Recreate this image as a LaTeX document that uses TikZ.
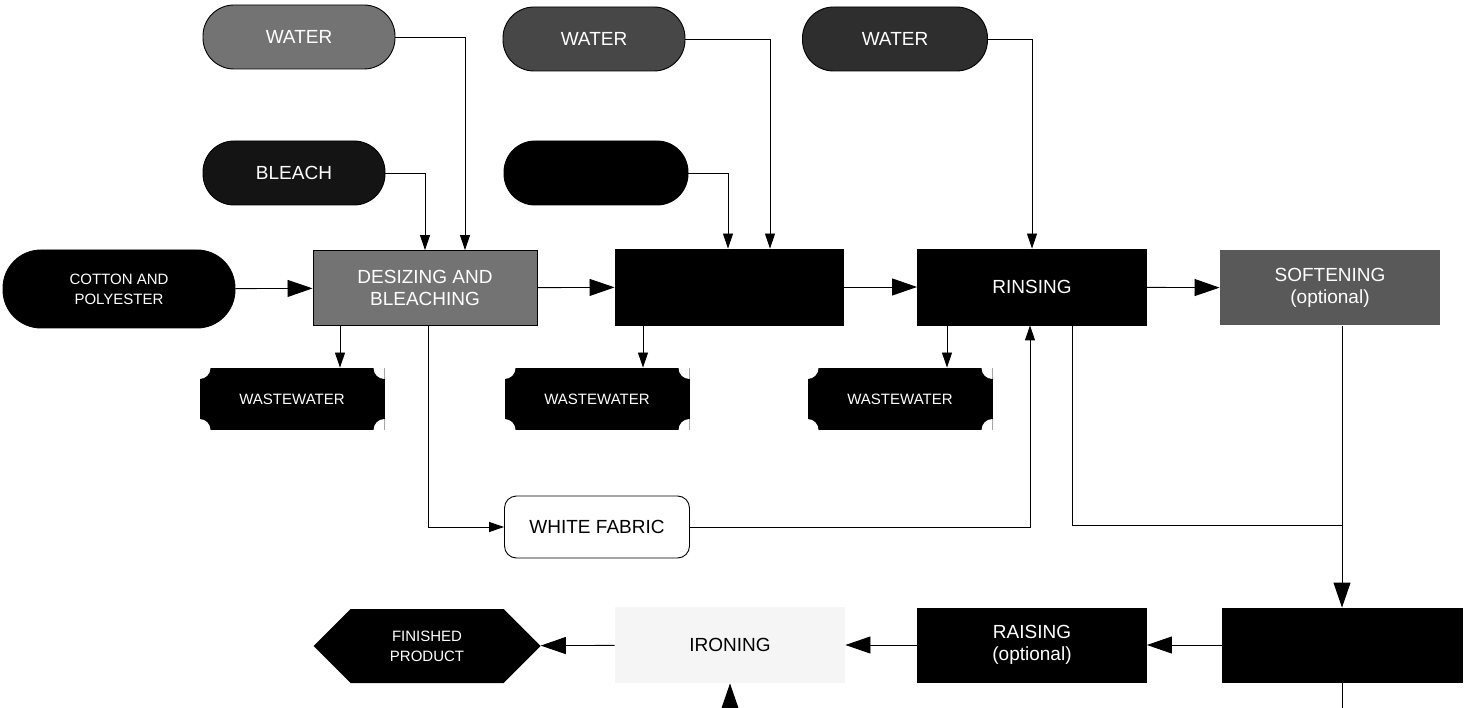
\documentclass[tikz,border=0pt]{standalone}
\usepackage{fontspec}
\setmainfont{Liberation Sans}
\usetikzlibrary{arrows.meta,shapes.symbols}
\begin{document}
\begin{tikzpicture}[x=1pt,y=-1pt,
  font=\fontsize{19}{22}\selectfont,
  line width=0.9pt,
  pill/.style={rectangle,rounded corners=31pt,minimum width=184pt,minimum height=64pt,
    draw=black,text=white,inner sep=0pt},
  procbox/.style={rectangle,minimum width=228pt,minimum height=76pt,draw=black,
    text=white,align=center,inner sep=0pt},
  waste/.style={rectangle,fill=black,minimum width=185pt,minimum height=62pt,
    text=white,inner sep=0pt,font=\fontsize{15}{18}\selectfont,
    path picture={
      \fill[white] (path picture bounding box.north west) circle (11pt);
      \fill[white] (path picture bounding box.north east) circle (11pt);
      \fill[white] (path picture bounding box.south west) circle (11pt);
      \fill[white] (path picture bounding box.south east) circle (11pt);}},
  bigtip/.style={-{Triangle[length=25pt,width=17pt]}},
  smalltip/.style={-{Triangle[length=15pt,width=10pt]}},
]
\useasboundingbox (0,0) rectangle (1464,708);

% inputs
\node[pill,fill=black!55,minimum width=192pt] (water1) at (299,37) {WATER};
\node[pill,fill=black!72,minimum width=182pt] (water2) at (594,39) {WATER};
\node[pill,fill=black!82,minimum width=185pt] (water3) at (895,39) {WATER};
\node[pill,fill=black!92,minimum width=182pt] (bleach) at (294,173) {BLEACH};
\node[pill,fill=black,minimum width=184pt] (chem) at (596,173) {};
\node[pill,fill=black,minimum width=232pt,minimum height=78pt,rounded corners=38pt,
  align=center,font=\fontsize{15}{20}\selectfont] (cotton) at (119,289)
  {COTTON AND\\POLYESTER};

% main process line
\node[procbox,fill=black!55,minimum width=224pt,minimum height=75pt] (desize) at (425,288)
  {DESIZING AND\\BLEACHING};
\node[procbox,fill=black] (dye) at (729,287) {};
\node[procbox,fill=black,minimum width=229pt] (rinse) at (1032,287) {RINSING};
\node[procbox,fill=black!65,draw=none,minimum width=220pt,minimum height=75pt] (soften) at (1330,288)
  {SOFTENING\\(optional)};

% waste outputs
\node[waste] (waste1) at (292,399) {WASTEWATER};
\node[waste] (waste2) at (597,399) {WASTEWATER};
\node[waste] (waste3) at (900,399) {WASTEWATER};

% side product
\node[rectangle,rounded corners=12pt,draw=black,fill=white,minimum width=185pt,
  minimum height=62pt] (white) at (597,527) {WHITE FABRIC};

% finishing line
\node[procbox,fill=black,minimum width=240pt,minimum height=74pt] (dry) at (1342,645) {};
\node[procbox,fill=black,minimum width=229pt,minimum height=74pt] (raise) at (1032,645)
  {RAISING\\(optional)};
\node[rectangle,fill=black!4,minimum width=230pt,minimum height=76pt] (ironing) at (730,645) {IRONING};
\node[signal,signal to=west and east,signal pointer angle=90,fill=black,text=white,
  minimum width=227pt,minimum height=74pt,inner sep=0pt,align=center,
  font=\fontsize{15}{20}\selectfont] (product) at (427,646) {FINISHED\\PRODUCT};

\coordinate (join) at (1342,525);
\coordinate (outdry) at (1342,708);
\coordinate (inironing) at (730,708);

% input connectors
\draw[smalltip] (water1.east) -| ([xshift=40pt]desize.north);
\draw[smalltip] (bleach.east) -| (desize.north);
\draw[smalltip] (water2.east) -| ([xshift=41pt]dye.north);
\draw[smalltip] (chem.east) -| ([xshift=-1pt]dye.north);
\draw[smalltip] (water3.east) -| (rinse.north);

% main flow
\draw[bigtip] (cotton) -- (desize);
\draw[bigtip] (desize) -- (dye);
\draw[bigtip] (dye) -- (rinse);
\draw[bigtip] (rinse) -- (soften);

% waste connectors
\draw[smalltip] ([xshift=-85pt]desize.south) -- ([xshift=-85pt]desize.south |- waste1.north);
\draw[smalltip] ([xshift=-86pt]dye.south) -- ([xshift=-86pt]dye.south |- waste2.north);
\draw[smalltip] ([xshift=-85pt]rinse.south) -- ([xshift=-85pt]rinse.south |- waste3.north);

% white fabric loop
\draw[smalltip] ([xshift=3pt]desize.south) |- (white.west);
\draw[smalltip] (white.east) -| ([xshift=-2pt]rinse.south);

% to the finishing line
\draw ([xshift=40pt]rinse.south) |- (join);
\draw[bigtip] (soften.south -| dry.north) -- (dry.north);
\draw[bigtip] (dry) -- (raise);
\draw[bigtip] (raise) -- (ironing);
\draw[bigtip] (ironing) -- (product);
\draw (dry.south) -- (outdry);
\draw[bigtip] (inironing) -- (ironing.south);
\end{tikzpicture}
\end{document}
